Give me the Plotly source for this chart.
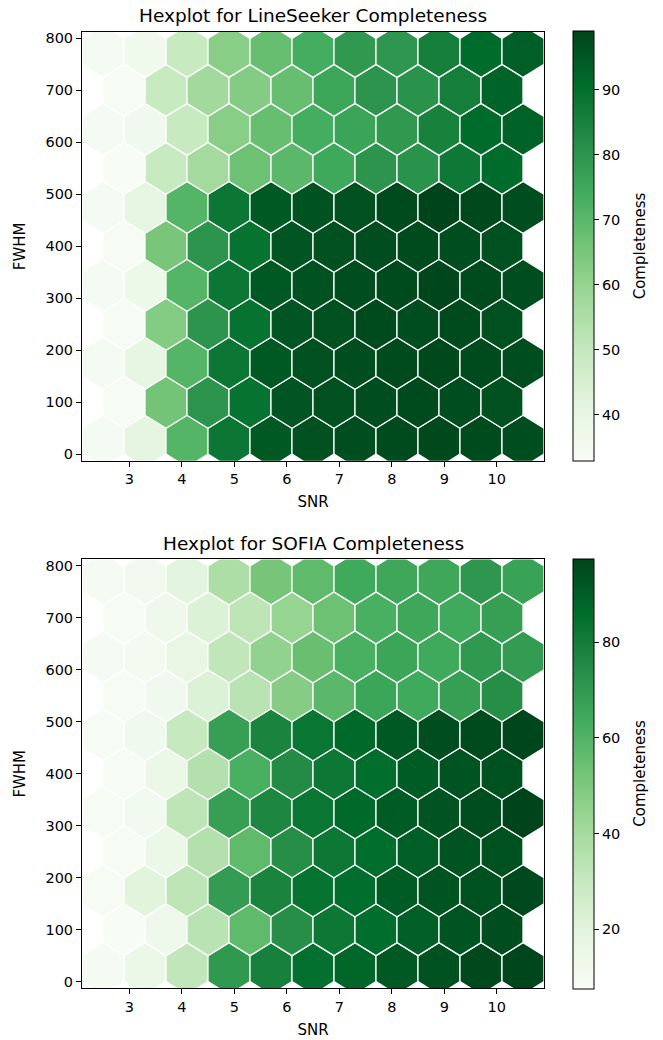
import plotly.graph_objects as go

# Hex-grid bin centres (matplotlib-style hexbin lattice, 10 x 5 grid)
snr_even = [2.5, 3.3, 4.1, 4.9, 5.7, 6.5, 7.3, 8.1, 8.9, 9.7, 10.5]
snr_odd = [2.9, 3.7, 4.5, 5.3, 6.1, 6.9, 7.7, 8.5, 9.3, 10.1]
fwhm_rows = [25, 100, 175, 250, 325, 400, 475, 550, 625, 700, 775]

# Completeness (%) per bin, one list per FWHM row (bottom to top)
lineseeker_completeness = [
    [34.0, 41.0, 71.0, 88.0, 95.0, 96.5, 97.0, 97.5, 98.0, 97.5, 97.0],
    [33.3, 66.0, 80.0, 89.0, 95.5, 96.5, 97.0, 97.5, 97.0, 96.5],
    [34.0, 40.0, 71.0, 88.0, 95.0, 96.5, 97.0, 97.5, 98.0, 97.5, 97.0],
    [33.3, 63.0, 80.0, 89.0, 95.5, 96.5, 97.5, 97.0, 97.5, 96.5],
    [34.0, 38.0, 71.0, 88.0, 95.0, 96.0, 97.0, 97.5, 98.5, 97.5, 97.0],
    [33.3, 65.0, 80.0, 89.0, 95.5, 96.5, 97.0, 97.5, 97.0, 96.5],
    [34.0, 40.0, 71.0, 88.0, 95.0, 96.0, 96.5, 97.5, 99.0, 98.0, 97.0],
    [32.8, 49.0, 57.0, 67.0, 70.0, 75.0, 80.0, 80.5, 87.5, 91.0],
    [34.0, 36.0, 49.0, 62.0, 68.0, 73.5, 76.0, 79.0, 85.0, 91.0, 93.0],
    [33.2, 49.0, 57.5, 63.0, 68.0, 75.5, 80.0, 80.5, 86.0, 92.5],
    [34.0, 36.5, 49.0, 62.0, 68.0, 73.5, 79.0, 79.5, 86.0, 91.0, 93.5],
]

sofia_completeness = [
    [9.0, 15.0, 32.0, 70.0, 79.0, 85.0, 88.0, 92.0, 94.0, 96.0, 97.0],
    [7.5, 13.0, 34.0, 57.0, 74.0, 82.0, 86.0, 90.0, 93.0, 95.0],
    [8.0, 20.0, 33.0, 69.0, 78.0, 84.0, 86.0, 91.0, 93.0, 94.0, 96.5],
    [8.0, 15.0, 36.0, 57.0, 74.0, 82.0, 86.0, 90.0, 93.0, 94.0],
    [8.0, 11.0, 33.0, 68.0, 77.0, 83.0, 87.0, 91.0, 93.0, 95.0, 97.5],
    [8.0, 15.0, 36.0, 62.0, 75.0, 82.0, 86.0, 91.0, 93.0, 94.0],
    [8.0, 12.0, 30.0, 68.0, 78.0, 83.0, 87.0, 92.0, 95.0, 95.5, 97.0],
    [8.0, 12.0, 22.0, 34.0, 48.0, 58.0, 66.0, 64.0, 68.0, 74.0],
    [8.5, 10.0, 17.0, 32.0, 45.0, 55.0, 62.0, 66.0, 64.0, 70.0, 69.0],
    [8.0, 13.0, 22.0, 33.0, 44.0, 54.0, 62.0, 65.0, 64.0, 68.0],
    [9.0, 10.5, 19.0, 38.0, 52.0, 57.0, 64.0, 65.0, 65.0, 71.0, 67.0],
]

panel_titles = ["Hexplot for LineSeeker Completeness", "Hexplot for SOFIA Completeness"]
x_ticks = [3, 4, 5, 6, 7, 8, 9, 10]
y_ticks = [0, 100, 200, 300, 400, 500, 600, 700, 800]
cbar_ticks = [[40, 50, 60, 70, 80, 90], [20, 40, 60, 80]]

# ColorBrewer "Greens" (same anchors as matplotlib's Greens colormap)
GREENS = [
    (247, 252, 245), (229, 245, 224), (199, 233, 192), (161, 217, 155),
    (116, 196, 118), (65, 171, 93), (35, 139, 69), (0, 109, 44), (0, 68, 27),
]
GREENS_SCALE = [[i / (len(GREENS) - 1), "rgb(%d,%d,%d)" % c] for i, c in enumerate(GREENS)]


def greens(value, vmin, vmax):
    t = (value - vmin) / (vmax - vmin)
    t = min(max(t, 0.0), 1.0)
    pos = t * (len(GREENS) - 1)
    i = min(int(pos), len(GREENS) - 2)
    f = pos - i
    a, b = GREENS[i], GREENS[i + 1]
    r, g, bl = (a[k] + (b[k] - a[k]) * f for k in range(3))
    return "rgb(%d,%d,%d)" % (round(r), round(g), round(bl))


# Bin size and pointy-top hexagon outline (matplotlib hexbin geometry)
sx = snr_even[1] - snr_even[0]
sy = 2 * (fwhm_rows[1] - fwhm_rows[0])
hex_dx = [0.5 * sx, 0.5 * sx, 0.0, -0.5 * sx, -0.5 * sx, 0.0, 0.5 * sx]
hex_dy = [-sy / 6, sy / 6, sy / 3, sy / 6, -sy / 6, -sy / 3, -sy / 6]

W, H = 663, 1040
ax_left, ax_right = 82, 544
panels_px = [(31, 461), (560, 990)]  # (top, bottom) in pixels
cbar_left, cbar_w = 573, 21
FONT = "DejaVu Sans"
TICK_SIZE = 14.5
LABEL_SIZE = 15
TITLE_SIZE = 18.5

fig = go.Figure()

for p, grid in enumerate([lineseeker_completeness, sofia_completeness]):
    xa = "x" if p == 0 else "x2"
    ya = "y" if p == 0 else "y2"
    flat = [v for row in grid for v in row]
    vmin, vmax = min(flat), max(flat)
    cx, cy, cv = [], [], []
    for r, fwhm in enumerate(fwhm_rows):
        xs = snr_even if r % 2 == 0 else snr_odd
        for snr, val in zip(xs, grid[r]):
            cx.append(snr)
            cy.append(fwhm)
            cv.append(val)
            fig.add_trace(go.Scatter(
                x=[snr + d for d in hex_dx],
                y=[fwhm + d for d in hex_dy],
                mode="lines", fill="toself",
                fillcolor=greens(val, vmin, vmax),
                line=dict(color="white", width=1.3),
                hoverinfo="skip", showlegend=False,
                xaxis=xa, yaxis=ya,
            ))
    top, bot = panels_px[p]
    fig.add_trace(go.Scatter(
        x=cx, y=cy, mode="markers", showlegend=False,
        text=[f"{v:.1f}" for v in cv],
        hovertemplate="SNR %{x}<br>FWHM %{y}<br>Completeness %{text}<extra></extra>",
        marker=dict(
            size=1, opacity=0, color=cv, colorscale=GREENS_SCALE,
            cmin=vmin, cmax=vmax, showscale=True,
            colorbar=dict(
                x=cbar_left / W, xanchor="left", xpad=0, ypad=0,
                y=1 - (top + bot) / 2 / H, yanchor="middle",
                len=bot - top, lenmode="pixels",
                thickness=cbar_w, thicknessmode="pixels",
                outlinecolor="black", outlinewidth=1,
                ticks="outside", ticklen=5, tickcolor="black",
                tickvals=cbar_ticks[p],
                tickfont=dict(family=FONT, size=TICK_SIZE, color="black"),
            ),
        ),
        xaxis=xa, yaxis=ya,
    ))

axis_common = dict(
    showgrid=False, zeroline=False, showline=True, mirror=True,
    linecolor="black", linewidth=1, ticks="outside", ticklen=5,
    tickcolor="black", tickwidth=1,
    tickfont=dict(family=FONT, size=TICK_SIZE, color="black"),
)

layout = dict(
    width=W, height=H, margin=dict(l=0, r=0, t=0, b=0),
    paper_bgcolor="white", plot_bgcolor="white",
    font=dict(family=FONT, size=TICK_SIZE, color="black"),
    annotations=[],
)
for p in range(2):
    top, bot = panels_px[p]
    sfx = "" if p == 0 else "2"
    layout["xaxis" + sfx] = dict(
        axis_common, domain=[ax_left / W, ax_right / W], range=[2.1, 10.9],
        tickvals=x_ticks, anchor="y" + sfx,
        title=dict(text="SNR", standoff=10,
                   font=dict(family=FONT, size=LABEL_SIZE, color="black")),
    )
    layout["yaxis" + sfx] = dict(
        axis_common, domain=[1 - bot / H, 1 - top / H], range=[-12.5, 812.5],
        tickvals=y_ticks, anchor="x" + sfx,
        title=dict(text="FWHM", standoff=16,
                   font=dict(family=FONT, size=LABEL_SIZE, color="black")),
    )
    layout["annotations"].append(dict(
        text=panel_titles[p], xref="paper", yref="paper",
        x=(ax_left + ax_right) / 2 / W, y=1 - (top - 16) / H,
        xanchor="center", yanchor="middle", showarrow=False,
        font=dict(family=FONT, size=TITLE_SIZE, color="black"),
    ))
    # colour-bar label, rotated alongside the bar
    layout["annotations"].append(dict(
        text="Completeness", xref="paper", yref="paper",
        x=640 / W, y=1 - (top + bot) / 2 / H,
        xanchor="center", yanchor="middle", showarrow=False, textangle=-90,
        font=dict(family=FONT, size=LABEL_SIZE, color="black"),
    ))

fig.update_layout(**layout)
fig.write_html("out.html")
